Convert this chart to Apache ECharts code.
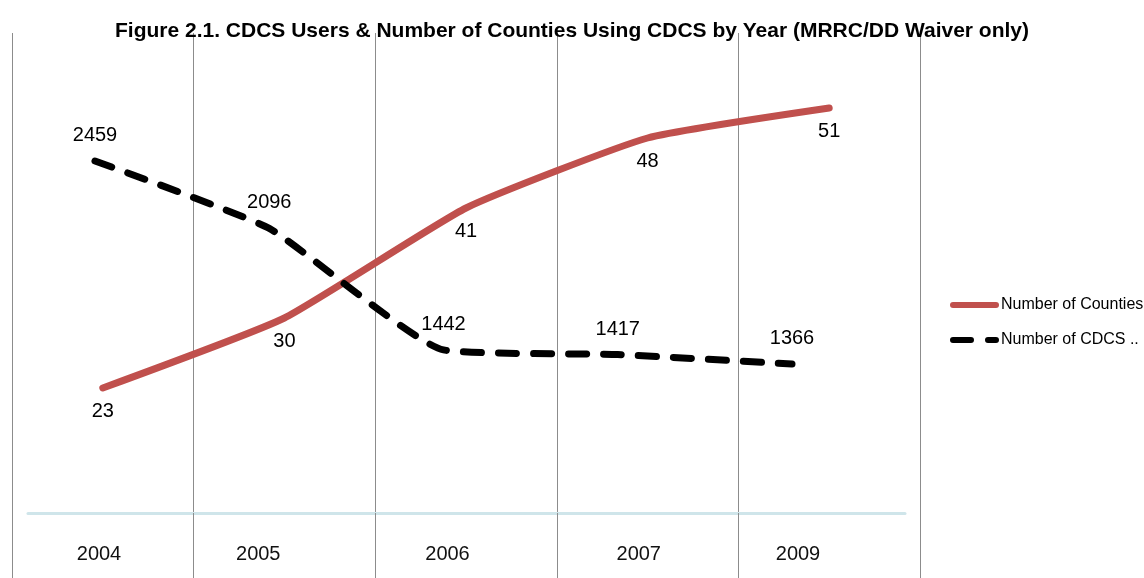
<!DOCTYPE html>
<html>
<head>
<meta charset="utf-8">
<script src="https://cdn.jsdelivr.net/npm/echarts@6/dist/echarts.min.js"></script>
<style>
  html, body { margin: 0; padding: 0; background: #fff; }
  #chart { width: 1144px; height: 578px; }
</style>
</head>
<body>
<div id="chart"></div>
<script>
// Years shown on the axis
const years = ['2004', '2005', '2006', '2007', '2009'];
// Counties using CDCS per year
const counties = [23, 30, 41, 48, 51];
// CDCS users per year
const users = [2459, 2096, 1442, 1417, 1366];

const seriesNames = ['Number of Counties', 'Number of CDCS Users'];
const titleText = 'Figure 2.1. CDCS Users & Number of Counties Using CDCS by Year (MRRC/DD Waiver only)';

const font = '"Liberation Sans", Arial, sans-serif';

// small per-year nudges of the year labels
const yearLabelRich = {
  y0: { padding: [0, 0, 0, 8] },
  y1: { padding: [0, 22, 0, 0] },
  y2: { padding: [0, 0, 0, 8] },
  y3: { padding: [0, 0, 0, 42] },
  y4: { padding: [0, 0, 0, 12] }
};

const chart = echarts.init(document.getElementById('chart'), null, { renderer: 'canvas' });

chart.setOption({
  animation: false,
  backgroundColor: '#ffffff',
  title: {
    text: titleText,
    left: 'center',
    top: 16,
    textStyle: { fontFamily: font, fontWeight: 'bold', fontSize: 21, color: '#000' }
  },
  legend: {
    orient: 'vertical',
    left: 945,
    top: 292,
    itemWidth: 43,
    itemHeight: 14,
    itemGap: 19,
    data: seriesNames,
    itemStyle: { color: 'transparent', borderWidth: 0 },
    lineStyle: { width: 6, cap: 'round' },
    textStyle: {
      fontFamily: font, fontSize: 16, color: '#000',
      width: 145, overflow: 'truncate', ellipsis: '..'
    }
  },
  grid: [
    // counties: category bands with vertical gridlines
    { left: 12, right: 224, top: 33, bottom: 65 },
    // users: points spread edge to edge
    { left: 95, right: 352, top: 33, bottom: 65 },
    // horizontal base line
    { left: 28, right: 239, top: 33, bottom: 65 }
  ],
  xAxis: [
    {
      type: 'category', gridIndex: 0, data: years, boundaryGap: true,
      axisLine: { show: false },
      axisLabel: { show: false },
      axisTick: { show: true, length: 66, lineStyle: { color: '#8c8c8c', width: 1 } },
      splitLine: { show: true, lineStyle: { color: '#8c8c8c', width: 1 } }
    },
    {
      type: 'category', gridIndex: 1, data: years, boundaryGap: false,
      axisLine: { show: false },
      axisTick: { show: false },
      splitLine: { show: false },
      axisLabel: {
        margin: 31, fontFamily: font, fontSize: 20, color: '#111',
        formatter: (v, i) => '{y' + i + '|' + v + '}',
        rich: yearLabelRich
      }
    },
    {
      type: 'category', gridIndex: 2, data: years,
      axisLine: { show: true, lineStyle: { color: '#cfe5ea', width: 3 } },
      axisTick: { show: false }, axisLabel: { show: false }, splitLine: { show: false }
    }
  ],
  yAxis: [
    { type: 'value', gridIndex: 0, min: 10.5, max: 58.5, show: false, splitLine: { show: false } },
    { type: 'value', gridIndex: 1, min: 564, max: 3148, show: false, splitLine: { show: false } },
    { type: 'value', gridIndex: 2, min: 0, max: 1, show: false, splitLine: { show: false } }
  ],
  series: [
    {
      name: seriesNames[0],
      type: 'line',
      xAxisIndex: 0, yAxisIndex: 0,
      data: counties,
      smooth: 0.15,
      symbol: 'circle',
      symbolSize: 1,
      itemStyle: { color: 'transparent', borderWidth: 0 },
      lineStyle: { color: '#c0504d', width: 7, cap: 'round', join: 'round' },
      label: {
        show: true, position: 'bottom', distance: 13,
        fontFamily: font, fontSize: 20, color: '#000'
      },
      z: 3
    },
    {
      name: seriesNames[1],
      type: 'line',
      xAxisIndex: 1, yAxisIndex: 1,
      data: users,
      smooth: 0.15,
      symbol: 'circle',
      symbolSize: 1,
      itemStyle: { color: 'transparent', borderWidth: 0 },
      lineStyle: { color: '#000', width: 7, type: [18, 17], cap: 'round', join: 'round' },
      label: {
        show: true, position: 'top', distance: 15,
        fontFamily: font, fontSize: 20, color: '#000'
      },
      z: 4
    }
  ]
});
</script>
</body>
</html>
